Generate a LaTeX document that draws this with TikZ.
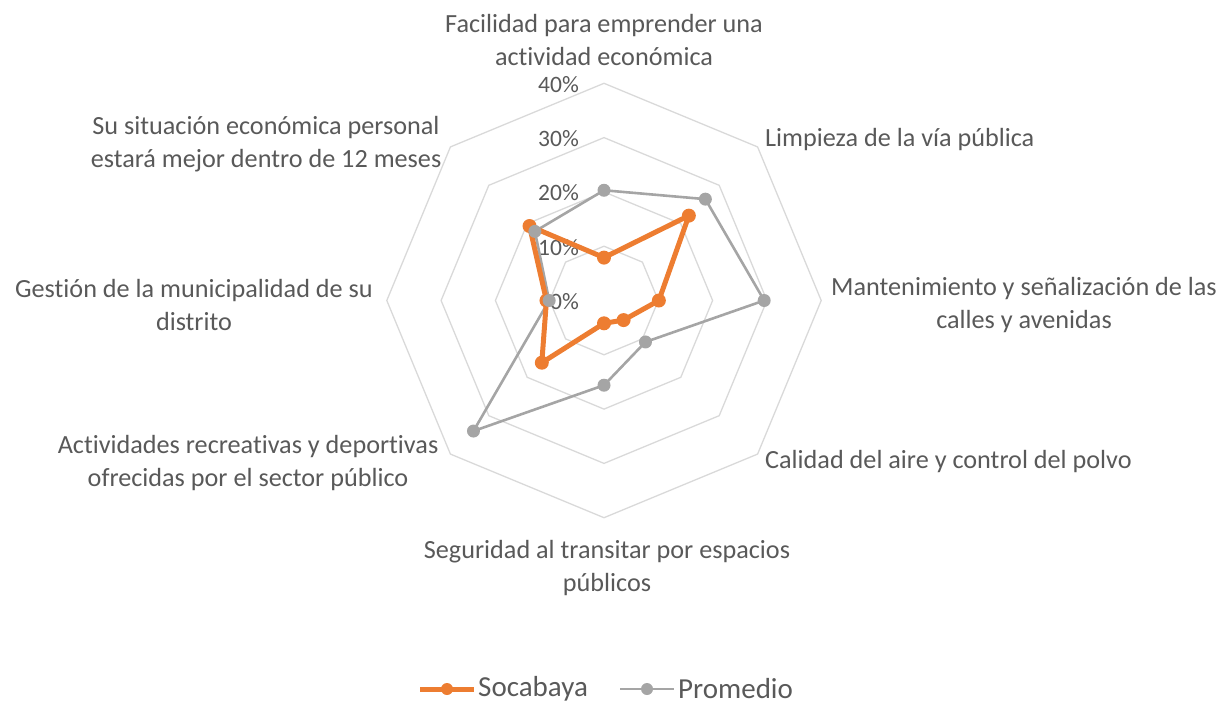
\documentclass[tikz,border=0pt]{standalone}
\usepackage{fontspec}
\setmainfont{Carlito}[RawFeature={-liga}]
\definecolor{txt}{HTML}{595959}
\definecolor{grid}{HTML}{D9D9D9}
\definecolor{orng}{HTML}{ED7D31}
\definecolor{gry}{HTML}{A5A5A5}
\begin{document}
\begin{tikzpicture}[x=1pt,y=-1pt,
  gridline/.style={draw=grid,line width=1.3pt},
  lbl/.style={text=txt,font=\fontsize{26.2}{33}\selectfont,align=center,inner sep=0pt},
  leglbl/.style={text=txt,font=\fontsize{29}{33}\selectfont,anchor=west,inner sep=0pt},
  ticklbl/.style={text=txt,font=\fontsize{23.5}{25}\selectfont,anchor=east,inner sep=0pt},
  oline/.style={draw=orng,line width=5pt,line join=round},
  gline/.style={draw=gry,line width=2.6pt,line join=round},
  omark/.style={circle,fill=orng,minimum size=14pt,inner sep=0pt},
  gmark/.style={circle,fill=gry,minimum size=13pt,inner sep=0pt}]
\useasboundingbox (0,0) rectangle (1230,707);
\def\cx{604}\def\cy{300.5}\def\sc{5.43}
% grid octagons
\foreach \r in {10,20,30,40}{
  \draw[gridline] ({\cx+\sc*\r*cos(90)},{\cy-\sc*\r*sin(90)})
    \foreach \k in {1,...,7}{ -- ({\cx+\sc*\r*cos(90-45*\k)},{\cy-\sc*\r*sin(90-45*\k)}) } -- cycle;
}
% tick labels
\node[ticklbl] (t0) at (579,302) {0\%};
\node[ticklbl] (t1) at (579,248) {10\%};
\node[ticklbl] (t2) at (579,193) {20\%};
\node[ticklbl] (t3) at (579,139) {30\%};
\node[ticklbl] (t4) at (579,85) {40\%};
% data coordinates
\foreach \v [count=\i from 0] in {7.9,22.1,10.1,5.1,4.2,16.2,10.6,19.4}
  \coordinate (o\i) at ({\cx+\sc*\v*cos(90-45*\i)},{\cy-\sc*\v*sin(90-45*\i)});
\foreach \v [count=\i from 0] in {20.3,26.4,29.5,10.8,15.6,34.0,10.1,18.0}
  \coordinate (g\i) at ({\cx+\sc*\v*cos(90-45*\i)},{\cy-\sc*\v*sin(90-45*\i)});
\draw[gline] (g0)--(g1)--(g2)--(g3)--(g4)--(g5)--(g6)--(g7)--cycle;
\draw[oline] (o0)--(o1)--(o2)--(o3)--(o4)--(o5)--(o6)--(o7)--cycle;
\foreach \i in {0,...,7} \node[omark] (om\i) at (o\i) {};
\foreach \i in {0,...,7} \node[gmark] (gm\i) at (g\i) {};
% axis labels
\node[lbl] (l0) at (604,40) {Facilidad para emprender una\\actividad económica};
\node[lbl,anchor=west] (l1) at (765,140) {Limpieza de la vía pública};
\node[lbl] (l2) at (1024,305) {Mantenimiento y señalización de las\\calles y avenidas};
\node[lbl,anchor=west] (l3) at (765,462) {Calidad del aire y control del polvo};
\node[lbl] (l4) at (607,568) {Seguridad al transitar por espacios\\públicos};
\node[lbl] (l5) at (248,463) {Actividades recreativas y deportivas\\ofrecidas por el sector público};
\node[lbl] (l6) at (194,305) {Gestión de la municipalidad de su\\distrito};
\node[lbl] (l7) at (266,144) {Su situación económica personal\\estará mejor dentro de 12 meses};
% legend
\coordinate (la) at (420,689); \coordinate (lb) at (474,689);
\draw[oline] (la)--(lb);
\node[omark,minimum size=12pt] (lom) at (447,689) {};
\node[leglbl] (ls) at (478,689) {Socabaya};
\coordinate (lc) at (620,689); \coordinate (ld) at (674,689);
\draw[gline] (lc)--(ld);
\node[gmark,minimum size=12pt] (lgm) at (647,689) {};
\node[leglbl] (lp) at (678,689) {Promedio};
\end{tikzpicture}
\end{document}
